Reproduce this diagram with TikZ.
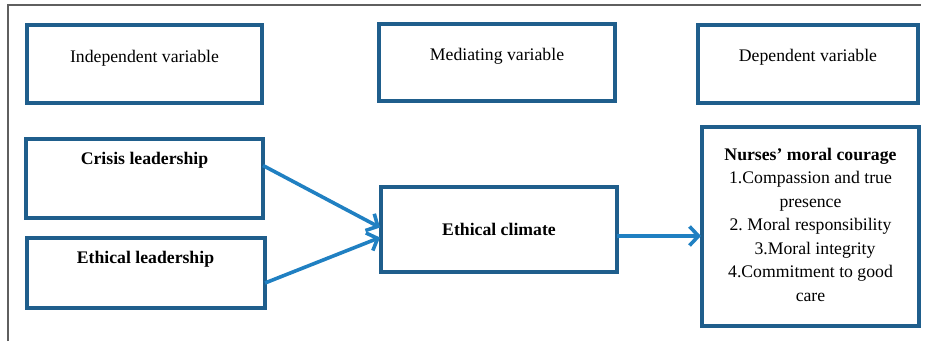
\documentclass[tikz,border=0pt]{standalone}
\usepackage{fontspec}
\setmainfont{Liberation Serif}
\frenchspacing
\usetikzlibrary{arrows.meta,calc}
\definecolor{boxblue}{RGB}{31,94,140}
\definecolor{arrowblue}{RGB}{32,128,194}
\definecolor{framegray}{RGB}{95,95,95}
\begin{document}
\begin{tikzpicture}[x=1pt,y=-1pt,
  vbox/.style={draw=boxblue,line width=3.4pt,inner sep=0pt,outer sep=0pt},
  vtext/.style={inner sep=0pt,anchor=base,font=\fontsize{17.7}{23.5}\selectfont},
  btext/.style={vtext,font=\fontsize{17.7}{23.5}\selectfont\bfseries},
  link/.style={draw=arrowblue,line width=3.6pt,-{Straight Barb[length=9pt,width=19pt]}}]
\useasboundingbox (0,0) rectangle (927,341);
% frame
\draw[framegray,line width=1.8pt] (8,341) -- (8,5) -- (921,5);
% header boxes
\node[vbox,minimum width=235pt,minimum height=78pt] (ind) at (144.5,64) {};
\node[vbox,minimum width=236pt,minimum height=77pt] (med) at (497,62.5) {};
\node[vbox,minimum width=220pt,minimum height=78pt] (dep) at (808,64) {};
\node[vtext] (indt) at (144.5,62) {Independent variable};
\node[vtext] (medt) at (497,60) {Mediating variable};
\node[vtext] (dept) at (808,61) {Dependent variable};
% model boxes
\node[vbox,minimum width=237pt,minimum height=79pt] (cri) at (144.5,178.5) {};
\node[vbox,minimum width=238pt,minimum height=70pt] (eth) at (146,273) {};
\node[vbox,minimum width=236pt,minimum height=85pt] (cli) at (499,229.5) {};
\node[vbox,minimum width=217pt,minimum height=199pt] (nur) at (810.5,226.5) {};
\node[btext] (crit) at (144.5,164) {Crisis leadership};
\node[btext] (etht) at (145.5,263) {Ethical leadership};
\node[btext] (clit) at (499,235) {Ethical climate};
\node[inner sep=0pt,align=center,font=\fontsize{17.7}{23.5}\selectfont] (nurt) at (810.5,224.5)
  {\textbf{Nurses’ moral courage}\\1.Compassion and true\\presence\\2. Moral responsibility\\\hspace*{9pt}3.Moral integrity\\4.Commitment to good\\care};
% connectors
\draw[link] ($(cri.east)+(0,-13)$) -- ($(cli.west)+(-1,-2)$);
\draw[link] ($(eth.east)+(0,10)$) -- ($(cli.west)+(-1,8)$);
\draw[link] ($(cli.east)+(0,6.5)$) -- ($(nur.west)+(-1,9.5)$);
\end{tikzpicture}
\end{document}
